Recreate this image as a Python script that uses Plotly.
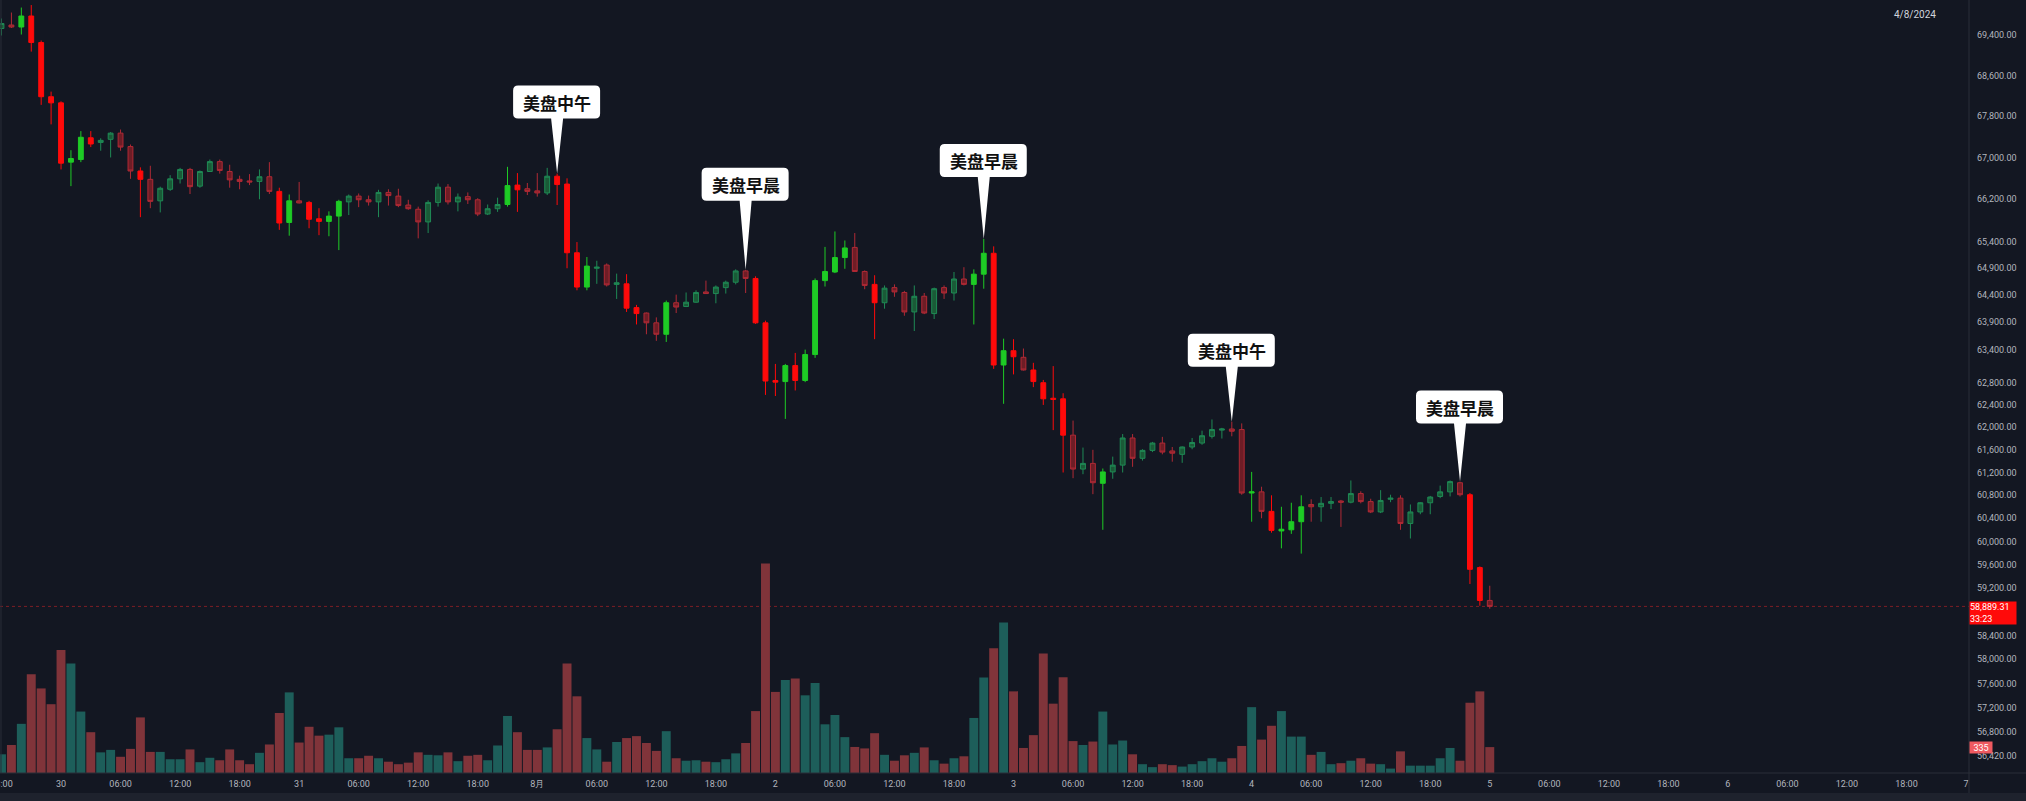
import math

import pandas as pd
import plotly.graph_objects as go

# ---- data: BTC 1h candles, 2024-07-29 18:00 .. 2024-08-05 00:00 ----
START = "2024-07-29 18:00"

OPEN = [
    69530, 69600, 69560, 69780, 69250, 68180, 68060, 66910, 66960, 67380,
    67290, 67350, 67470, 67210, 66740, 66580, 66170, 66390, 66590, 66770,
    66450, 66730, 66920, 66730, 66580, 66550, 66540, 66630, 66350, 65760,
    66170, 66140, 65830, 65780, 65880, 66150, 66260, 66190, 66150, 66330,
    66260, 66090, 66010, 65770, 66140, 66430, 66150, 66250, 66190, 65920,
    66020, 66100, 66470, 66400, 66360, 66320, 66640, 66490, 65190, 64550,
    64900, 64960, 64600, 64610, 64170, 64070, 63890, 63680, 64260, 64190,
    64270, 64460, 64430, 64540, 64640, 64850, 64710, 63890, 62840, 62820,
    63110, 62840, 63310, 64670, 64830, 65100, 65290, 64840, 64600, 64260,
    64540, 64450, 64090, 64380, 64060, 64540, 64440, 64700, 64600, 64790,
    65180, 63120, 63380, 63260, 63030, 62800, 62520, 62510, 61860, 61260,
    61360, 61010, 61210, 61330, 61810, 61450, 61590, 61720, 61580, 61520,
    61650, 61720, 61840, 61950, 61970, 61960, 60840, 60860, 60520, 60180,
    60200, 60340, 60640, 60600, 60660, 60700, 60680, 60830, 60690, 60510,
    60730, 60750, 60310, 60510, 60670, 60780, 60860, 61020, 60810, 59550,
    58990,
]
HIGH = [
    69730, 69850, 69950, 70000, 69290, 68280, 68090, 67140, 67510, 67510,
    67370, 67490, 67540, 67250, 66810, 66840, 66440, 66660, 66800, 66800,
    66750, 66960, 66960, 66860, 66650, 66680, 66770, 66910, 66420, 66290,
    66530, 66170, 66030, 65970, 66190, 66290, 66310, 66270, 66380, 66390,
    66400, 66190, 66060, 66180, 66500, 66490, 66310, 66330, 66220, 66100,
    66230, 66820, 66700, 66510, 66700, 66800, 66690, 66600, 65390, 65110,
    65040, 64990, 64800, 64790, 64220, 64080, 63990, 64300, 64410, 64450,
    64490, 64670, 64580, 64670, 64880, 64870, 64750, 63930, 63140, 63140,
    63340, 63400, 64710, 65300, 65590, 65420, 65560, 64860, 64770, 64580,
    64600, 64480, 64580, 64440, 64540, 64580, 64830, 64920, 64880, 65450,
    65310, 63600, 63590, 63420, 63160, 62850, 63100, 62610, 62120, 61640,
    61600, 61270, 61480, 61880, 61880, 61610, 61740, 61830, 61650, 61660,
    61810, 61940, 62140, 61990, 62100, 62070, 61210, 60950, 60800, 60600,
    60670, 60800, 60730, 60770, 60770, 60720, 61060, 60870, 60740, 60890,
    60810, 60800, 60640, 60680, 60790, 60970, 61060, 61040, 60840, 59570,
    59240,
]
LOW = [
    69390, 69540, 69410, 69070, 68020, 67640, 66770, 66450, 66910, 67200,
    67130, 67000, 67130, 66590, 65860, 66030, 65950, 66360, 66500, 66300,
    66420, 66720, 66690, 66420, 66390, 66470, 66200, 66300, 65620, 65510,
    66120, 65650, 65520, 65500, 65240, 65900, 66050, 66080, 65860, 66080,
    66050, 66000, 65460, 65560, 66060, 66100, 65970, 66110, 65880, 65900,
    65960, 66060, 65960, 66280, 66250, 66280, 66090, 64900, 64490, 64490,
    64610, 64560, 64330, 64090, 63860, 63680, 63560, 63540, 64070, 64180,
    64260, 64430, 64250, 64430, 64600, 64440, 63870, 62580, 62560, 62150,
    62660, 62810, 63250, 64560, 64810, 64890, 64830, 64510, 63590, 64150,
    64370, 64020, 63740, 64050, 63960, 64330, 64300, 64580, 63860, 64520,
    63050, 62420, 62950, 63020, 62720, 62400, 61950, 61200, 61100, 61170,
    60820, 60200, 61090, 61200, 61300, 61410, 61560, 61520, 61390, 61370,
    61610, 61690, 61800, 61800, 61840, 60810, 60340, 60400, 60150, 59880,
    60130, 59790, 60340, 60340, 60560, 60250, 60660, 60660, 60490, 60490,
    60680, 60200, 60050, 60470, 60470, 60750, 60780, 60780, 59270, 58900,
    58850,
]
CLOSE = [
    69630, 69560, 69780, 69250, 68180, 68060, 66890, 66980, 67390, 67260,
    67330, 67470, 67200, 66740, 66580, 66160, 66410, 66590, 66770, 66440,
    66730, 66920, 66750, 66570, 66540, 66530, 66630, 66350, 65750, 66170,
    66130, 65820, 65780, 65880, 66160, 66260, 66190, 66150, 66330, 66270,
    66080, 66020, 65770, 66140, 66430, 66150, 66240, 66190, 65920, 66020,
    66100, 66460, 66380, 66350, 66320, 66640, 66480, 65190, 64550, 64940,
    64920, 64590, 64630, 64160, 64060, 63890, 63680, 64260, 64180, 64270,
    64450, 64430, 64550, 64640, 64850, 64710, 63890, 62830, 62810, 63110,
    62840, 63310, 64670, 64840, 65100, 65280, 64840, 64580, 64260, 64530,
    64460, 64090, 64380, 64070, 64520, 64440, 64700, 64600, 64790, 65180,
    63120, 63380, 63270, 63030, 62820, 62510, 62500, 61860, 61260, 61360,
    61020, 61210, 61330, 61810, 61450, 61590, 61720, 61560, 61540, 61650,
    61730, 61850, 61960, 61970, 61930, 60840, 60860, 60520, 60190, 60210,
    60340, 60600, 60600, 60660, 60690, 60680, 60830, 60690, 60510, 60710,
    60750, 60310, 60510, 60670, 60770, 60860, 61040, 60810, 59520, 58990,
    58889.31,
]
VOLUME = [
    242, 362, 636, 1278, 1094, 890, 1590, 1418, 795, 528,
    267, 299, 210, 312, 719, 273, 273, 178, 178, 305,
    140, 197, 165, 305, 165, 114, 261, 369, 776, 1043,
    394, 598, 483, 496, 591, 191, 191, 223, 191, 146,
    114, 134, 267, 235, 229, 267, 153, 223, 235, 165,
    356, 738, 528, 299, 299, 331, 566, 1418, 992, 452,
    305, 146, 401, 452, 477, 388, 286, 541, 191, 159,
    165, 146, 140, 178, 254, 388, 801, 2709, 1049, 1202,
    1221, 1005, 1164, 630, 750, 464, 337, 318, 515, 235,
    159, 229, 261, 331, 165, 121, 191, 216, 712, 1234,
    1615, 1946, 1056, 324, 490, 1545, 897, 1240, 413, 362,
    407, 795, 369, 420, 242, 114, 76, 114, 102, 83,
    114, 153, 191, 146, 191, 350, 852, 432, 611, 801,
    471, 471, 235, 273, 114, 127, 159, 191, 121, 114,
    57, 280, 95, 95, 95, 191, 324, 159, 909, 1056,
    335,
]

# session callouts: candle index -> label
CALLOUT_IDX = [56, 75, 99, 124, 147]
CALLOUT_TEXT = ["美盘中午", "美盘早晨", "美盘早晨", "美盘中午", "美盘早晨"]
CALLOUT_STEM = [55, 69, 62, 55, 58]   # pointer length in px

Y_TICKS = [69400, 68600, 67800, 67000, 66200, 65400, 64900, 64400, 63900,
           63400, 62800, 62400, 62000, 61600, 61200, 60800, 60400, 60000,
           59600, 59200, 58400, 58000, 57600, 57200, 56800, 56420]
X_TICK_TEXT = ["18:00", "30", "06:00", "12:00", "18:00", "31", "06:00", "12:00",
               "18:00", "8月", "06:00", "12:00", "18:00", "2", "06:00", "12:00",
               "18:00", "3", "06:00", "12:00", "18:00", "4", "06:00", "12:00",
               "18:00", "5", "06:00", "12:00", "18:00", "6", "06:00", "12:00",
               "18:00", "7"]

LAST_PRICE = 58889.31
LAST_VOL = 335
COUNTDOWN = "33:23"
DATE_STAMP = "4/8/2024"

# ---- styling ----
BG = "#131722"
BORDER = "#2a2e39"
TXT = "#b2b5be"
FONT = "Roboto"
HI_VOL = 450   # candles with volume above this are drawn in the bright palette

times = pd.date_range(START, periods=len(CLOSE), freq="h")
hi = [v >= HI_VOL for v in VOLUME]


def subset(vals, mask):
    return [v for v, m in zip(vals, mask) if m]


fig = go.Figure()

# -- volume bars (underneath, own hidden axis) --
vol_colors = ["#1d5e5a" if c >= o else "#80343a" for o, c in zip(OPEN, CLOSE)]
fig.add_trace(go.Bar(
    x=times, y=VOLUME, marker_color=vol_colors, marker_line_width=0,
    width=3600000 * 0.9, yaxis="y", showlegend=False, hoverinfo="skip",
))

# -- candles: dim and bright palettes --
for mask, inc_line, inc_fill, dec_line, dec_fill in [
    ([not h for h in hi], "#1f8a55", "#1a5a37", "#b02a35", "#6e1d26"),
    (hi, "#1ecb25", "#1ecb25", "#ff0a0a", "#ff0a0a"),
]:
    fig.add_trace(go.Candlestick(
        x=subset(times, mask), open=subset(OPEN, mask), high=subset(HIGH, mask),
        low=subset(LOW, mask), close=subset(CLOSE, mask),
        increasing=dict(line=dict(color=inc_line, width=1), fillcolor=inc_fill),
        decreasing=dict(line=dict(color=dec_line, width=1), fillcolor=dec_fill),
        whiskerwidth=0, yaxis="y2", showlegend=False, hoverinfo="skip",
    ))

shapes = []
annotations = []

# -- callout bubbles --
W1, W2, R, PW, BOXH = -44, 43, 5, 6, 33
for idx, text, stem in zip(CALLOUT_IDX, CALLOUT_TEXT, CALLOUT_STEM):
    b, t = stem, stem + BOXH
    path = (f"M {W1 + R},{b} L {-PW},{b} L 0,0 L {PW},{b} L {W2 - R},{b} "
            f"Q {W2},{b} {W2},{b + R} L {W2},{t - R} Q {W2},{t} {W2 - R},{t} "
            f"L {W1 + R},{t} Q {W1},{t} {W1},{t - R} L {W1},{b + R} "
            f"Q {W1},{b} {W1 + R},{b} Z")
    shapes.append(dict(
        type="path", xref="x", yref="y2", xsizemode="pixel", ysizemode="pixel",
        xanchor=times[idx], yanchor=HIGH[idx], path=path,
        fillcolor="#ffffff", line=dict(width=0), layer="above",
    ))
    annotations.append(dict(
        x=times[idx], y=math.log10(HIGH[idx]), xref="x", yref="y2",
        text=f"<b>{text}</b>", showarrow=False, yshift=stem + BOXH / 2,
        font=dict(family="Noto Sans CJK SC", size=17, color="#111111"),
    ))

# -- last price line + labels --
shapes.append(dict(
    type="line", xref="paper", yref="y2", x0=0, x1=1, y0=LAST_PRICE, y1=LAST_PRICE,
    line=dict(color="rgba(255,40,40,0.45)", width=1, dash="dot"), layer="below",
))
annotations.append(dict(
    xref="paper", x=1, xanchor="left", yref="y2", y=math.log10(LAST_PRICE),
    yanchor="top", yshift=5.5, showarrow=False, align="left",
    text=f"{LAST_PRICE:,.2f}<br>{COUNTDOWN}", width=46, height=22, borderpad=0,
    bgcolor="#ff0a0a", font=dict(family=FONT, size=9, color="#ffffff"),
))
annotations.append(dict(
    xref="paper", x=1, xanchor="left", yref="y", y=LAST_VOL, yanchor="middle",
    showarrow=False, text=str(LAST_VOL), width=22, height=11, borderpad=0,
    bgcolor="#ef5a60", font=dict(family=FONT, size=9, color="#ffffff"),
))

# -- header texts --
annotations.append(dict(
    xref="paper", x=1938 / 1969, xanchor="right", yref="paper", y=1,
    yanchor="top", yshift=-7, showarrow=False, text=DATE_STAMP,
    font=dict(family=FONT, size=10, color="#d1d4dc"),
))
annotations.append(dict(
    xref="paper", x=0, xanchor="left", xshift=6, yref="paper", y=1,
    yanchor="bottom", yshift=-4, showarrow=False,
    text="Vol  373  <span style='color:#f23645'>335</span>",
    font=dict(family=FONT, size=10, color=TXT),
))

# -- frame lines --
shapes += [
    dict(type="rect", xref="paper", yref="paper", x0=-0.01, x1=1.1,
         y0=-20 / 773, y1=-0.05, fillcolor="#1e222d", line=dict(width=0)),
    dict(type="line", xref="paper", yref="paper", x0=0, x1=1.1, y0=0, y1=0,
         line=dict(color=BORDER, width=1)),
    dict(type="line", xref="paper", yref="paper", x0=1, x1=1, y0=-20 / 773, y1=1,
         line=dict(color=BORDER, width=1)),
    dict(type="line", xref="paper", yref="paper", x0=0.0005, x1=0.0005, y0=0, y1=1,
         line=dict(color=BORDER, width=1)),
]

fig.update_layout(
    width=2026, height=801, autosize=False,
    margin=dict(l=0, r=57, t=0, b=28, autoexpand=False),
    paper_bgcolor=BG, plot_bgcolor=BG,
    showlegend=False, hovermode=False,
    shapes=shapes, annotations=annotations,
    xaxis=dict(
        type="date", range=["2024-07-29 17:51", "2024-08-07 00:18"],
        tickvals=pd.date_range(START, "2024-08-07 00:00", freq="6h"),
        ticktext=X_TICK_TEXT, showgrid=False, zeroline=False, showline=False,
        ticks="", ticklabelstandoff=4, ticklabeloverflow="allow",
        automargin=False, rangeslider=dict(visible=False),
        tickfont=dict(family=FONT, size=9, color=TXT),
    ),
    yaxis=dict(range=[0, 10000], visible=False, fixedrange=True, automargin=False),
    yaxis2=dict(
        overlaying="y", side="right", type="log",
        range=[4.74924, 4.84573], tickvals=Y_TICKS,
        ticktext=[f"{v:,.2f}" for v in Y_TICKS],
        showgrid=False, zeroline=False, showline=False, ticks="",
        automargin=False,
        ticklabelstandoff=7, tickfont=dict(family=FONT, size=9, color=TXT),
    ),
)

fig.write_html(
    "out.html",
    config={"displayModeBar": False},
    post_script="document.body.style.margin='0';document.body.style.overflow='hidden';",
)
